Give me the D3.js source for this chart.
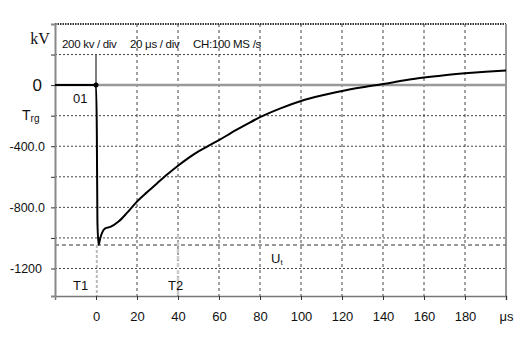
<!DOCTYPE html>
<html>
<head>
<meta charset="utf-8">
<script src="https://cdn.jsdelivr.net/npm/d3@7"></script>
<style>
  body { margin: 0; background: #fff; }
  svg { display: block; font-family: "Liberation Sans", Arial, sans-serif; }
</style>
</head>
<body>
<script>
// impulse record
var timeUs = [-20, 0, 0.4, 0.7, 1.3, 2.0, 3.0, 4.5, 7, 11, 15, 17.5, 20, 25, 30, 35, 40, 45, 50, 55, 60, 65, 70, 75, 80, 90, 100, 110, 120, 130, 140, 150, 160, 170, 180, 190, 200];
var voltageKv = [0, 0, -300, -900, -1045, -1005, -965, -938, -928, -893, -838, -800, -762, -700, -640, -582, -528, -478, -434, -396, -360, -320, -282, -245, -210, -152, -104, -68, -38, -14, 7, 30, 50, 65, 77, 87, 95];

var xTicks = [0, 20, 40, 60, 80, 100, 120, 140, 160, 180, 200];
var xUnit = "μs";
var yGrid = [200, -200, -400, -600, -800, -1000, -1200];
var yTicks = [200, 0, -200, -400, -600, -800, -1000, -1200];
var yLabels = {"0": "0", "-400": "-400.0", "-800": "-800.0", "-1200": "-1200"};
var utLevel = -1047;
var headerTexts = ["200 kv / div", "20 μs / div", "CH:100 MS /s"];

var w = 523;
var h = 340;
const margin = {top: 24, bottom: 44, left: 55, right: 17};

var svg = d3.select("body")
            .append("svg")
            .attr("width", w)
            .attr("height", h);

var x = d3.scaleLinear()
          .domain([-20, 200])
          .range([margin.left, w - margin.right]);

var y = d3.scaleLinear()
          .domain([-1380, 400])
          .range([h - margin.bottom, margin.top]);

// horizontal dotted grid
svg.selectAll(".hgrid")
   .data(yGrid)
   .enter()
   .append("line")
   .attr("x1", x(-20))
   .attr("x2", x(200))
   .attr("y1", function(d) { return y(d); })
   .attr("y2", function(d) { return y(d); })
   .attr("stroke", "#444")
   .attr("stroke-width", 1)
   .attr("stroke-dasharray", "2,2");

// vertical dotted grid
svg.selectAll(".vgrid")
   .data(xTicks.slice(1, -1))
   .enter()
   .append("line")
   .attr("x1", function(d) { return x(d); })
   .attr("x2", function(d) { return x(d); })
   .attr("y1", y(400))
   .attr("y2", y(-1380))
   .attr("stroke", "#444")
   .attr("stroke-width", 1)
   .attr("stroke-dasharray", "3,3");

// top border, dotted
svg.append("line")
   .attr("x1", x(-20)).attr("x2", x(200))
   .attr("y1", y(400)).attr("y2", y(400))
   .attr("stroke", "#333")
   .attr("stroke-width", 2)
   .attr("stroke-dasharray", "1.5,1");

// right border
svg.append("line")
   .attr("x1", x(200)).attr("x2", x(200))
   .attr("y1", y(400)).attr("y2", y(-1380))
   .attr("stroke", "#999")
   .attr("stroke-width", 2);

// zero line
svg.append("line")
   .attr("x1", x(-20)).attr("x2", x(200))
   .attr("y1", y(0)).attr("y2", y(0))
   .attr("stroke", "#999")
   .attr("stroke-width", 2.5);

// test voltage level Ut
svg.append("line")
   .attr("x1", x(-20)).attr("x2", x(200))
   .attr("y1", y(utLevel)).attr("y2", y(utLevel))
   .attr("stroke", "#777")
   .attr("stroke-width", 1.5)
   .attr("stroke-dasharray", "4,3");

// T1 and T2 markers
svg.append("line")
   .attr("x1", x(0.4)).attr("x2", x(0.4))
   .attr("y1", y(utLevel)).attr("y2", y(-1380))
   .attr("stroke", "#bbb")
   .attr("stroke-width", 2)
   .attr("stroke-dasharray", "3,2");

svg.append("line")
   .attr("x1", x(40)).attr("x2", x(40))
   .attr("y1", y(-980)).attr("y2", y(-1380))
   .attr("stroke", "#ccc")
   .attr("stroke-width", 2.5)
   .attr("stroke-dasharray", "4,3");

// trigger line at t = 0
svg.append("line")
   .attr("x1", x(0)).attr("x2", x(0))
   .attr("y1", y(200)).attr("y2", y(0))
   .attr("stroke", "#555")
   .attr("stroke-width", 1.5);

// axes
const xAxis = d3.axisBottom()
                .scale(x)
                .tickValues(xTicks)
                .tickSize(4)
                .tickPadding(12)
                .tickFormat(function(d) { return d === 200 ? xUnit : d; });

const yAxis = d3.axisLeft()
                .scale(y)
                .tickValues(yTicks)
                .tickSize(4)
                .tickPadding(6)
                .tickFormat(function(d) { return yLabels[d] || ""; });

var gx = svg.append("g")
   .attr("transform", "translate(0," + (h - margin.bottom) + ")")
   .call(xAxis);

var gy = svg.append("g")
   .attr("transform", "translate(" + margin.left + ",0)")
   .call(yAxis);

gx.select(".domain").attr("stroke", "#777").attr("stroke-width", 1.5);
gy.select(".domain").attr("stroke", "#888").attr("stroke-width", 2);
gx.selectAll(".tick line").attr("stroke", "#333");
gy.selectAll(".tick line").attr("stroke", "#333");
gx.selectAll("text").attr("font-size", "13px").attr("fill", "#111");
gy.selectAll("text").attr("font-size", "12.5px").attr("fill", "#111");
gy.selectAll(".tick text")
  .filter(function(d) { return d === 0; })
  .attr("font-size", "17px")
  .attr("dx", -3);
gy.selectAll(".tick text")
  .filter(function(d) { return d === -1200; })
  .attr("dx", -3);

// unit label
svg.append("text")
   .attr("x", 40)
   .attr("y", y(300) + 5)
   .attr("text-anchor", "middle")
   .attr("font-family", "'Liberation Serif', 'DejaVu Serif', serif")
   .attr("font-size", "16px")
   .attr("fill", "#111")
   .text("kV");

// Trg label
var trg = svg.append("text")
   .attr("x", 22)
   .attr("y", y(-200) + 4)
   .attr("font-size", "14px")
   .attr("fill", "#111");
trg.append("tspan").text("T");
trg.append("tspan").attr("font-size", "10px").attr("dy", 2).text("rg");

// header texts
var headerX = [62, 130, 193];
svg.selectAll(".header")
   .data(headerTexts)
   .enter()
   .append("text")
   .attr("x", function(d, i) { return headerX[i]; })
   .attr("y", 48)
   .attr("font-size", "11.5px")
   .attr("letter-spacing", "-0.3px")
   .attr("fill", "#111")
   .text(function(d) { return d; });

// marker labels
svg.append("text").attr("x", 73).attr("y", 103)
   .attr("font-size", "13px").attr("fill", "#111").text("01");
svg.append("text").attr("x", 73).attr("y", 290)
   .attr("font-size", "13px").attr("fill", "#111").text("T1");
svg.append("text").attr("x", 168).attr("y", 290)
   .attr("font-size", "13px").attr("fill", "#111").text("T2");
var ut = svg.append("text").attr("x", 271).attr("y", 263)
   .attr("font-size", "13px").attr("fill", "#111");
ut.append("tspan").text("U");
ut.append("tspan").attr("font-size", "8px").attr("dy", 2).text("t");

// the impulse curve
var points = timeUs.map(function(t, i) { return [t, voltageKv[i]]; });
var line = d3.line()
             .x(function(d) { return x(d[0]); })
             .y(function(d) { return y(d[1]); })
             .curve(d3.curveMonotoneX);

svg.append("path")
   .datum(points)
   .attr("d", line)
   .attr("fill", "none")
   .attr("stroke", "#000")
   .attr("stroke-width", 2)
   .attr("stroke-linejoin", "round");

// trigger dot
svg.append("circle")
   .attr("cx", x(0))
   .attr("cy", y(0))
   .attr("r", 2.5)
   .attr("fill", "#000");
</script>
</body>
</html>
